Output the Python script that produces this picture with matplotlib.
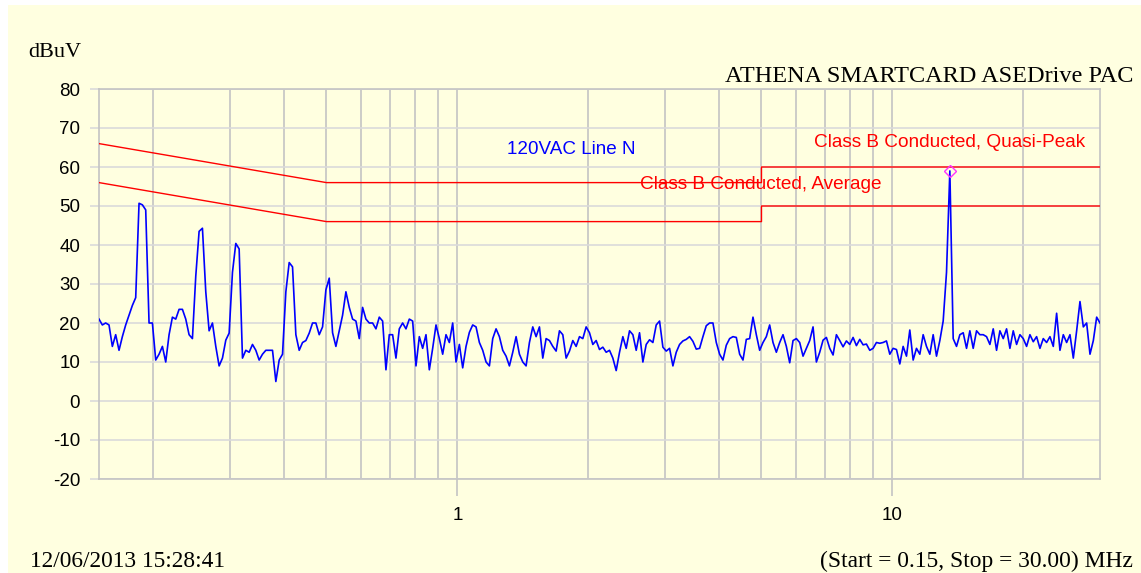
import matplotlib.pyplot as plt
import numpy as np
from matplotlib.patches import Rectangle

plt.rcParams['axes.unicode_minus'] = False

# sweep 0.15 - 30 MHz, 301 log spaced points, levels in dBuV
level = [21, 19.5, 20, 19.5, 14, 17, 13, 16.5, 19.5, 22,
         24.5, 26.5, 50.7, 50.3, 49, 20, 20, 10.5, 12, 14,
         10, 17, 21.5, 21, 23.5, 23.5, 21, 17, 16, 32,
         43.5, 44.3, 28, 18, 20, 14, 9, 11, 15.6, 17.4,
         33, 40.4, 39, 11, 13, 12.5, 14.5, 13, 10.5, 12,
         13, 13, 13, 5, 10.5, 12, 28, 35.5, 34.4, 17,
         13, 15, 15.5, 17.4, 20, 20, 17, 19, 28.5, 31.5,
         17.5, 14, 18, 22, 28, 24, 21, 20.5, 16, 24,
         21, 20, 20, 18.5, 21.5, 20.5, 8, 17, 17, 11,
         18.5, 20, 18.5, 21, 20.5, 9, 16.5, 13.5, 17, 8,
         13.5, 19.5, 16, 12, 17, 15, 20, 10, 14.5, 8.5,
         14, 17.6, 19.5, 19, 15, 13, 10, 9, 16, 18.5,
         16.5, 13, 11.5, 9, 12.5, 16.5, 12, 10, 9, 15,
         19, 16.5, 19, 11, 16, 15.5, 14, 12.8, 18, 17,
         11, 12.8, 15.5, 14, 16.5, 16, 19, 17.5, 14.5, 15.5,
         13.2, 13.8, 12.5, 13, 11, 7.8, 12.5, 16.5, 13.5, 18,
         17, 13, 17.5, 10, 14.5, 15.7, 15, 19.5, 20.5, 13.8,
         12.8, 13.5, 9, 12.5, 14.5, 15.4, 15.8, 16.5, 15.3, 13.3,
         13.5, 16.5, 19.3, 20, 20, 15, 12, 10.5, 14.3, 16,
         16.5, 16.3, 12, 10.5, 15.8, 16, 21.5, 17, 13, 15,
         16.5, 19.5, 15, 12.5, 15, 17, 14, 9.8, 15.5, 16,
         15, 11.5, 13.5, 15.5, 19, 10, 12.5, 15.6, 16.3, 13.5,
         11.8, 17, 15.5, 13.9, 15.4, 14.5, 16.3, 14.2, 15.8, 14.4,
         14.6, 13, 13.5, 15, 14.8, 15, 15.4, 12, 13.5, 13.2,
         9.5, 14, 11.5, 18.2, 10.5, 13.5, 12, 17, 14, 12,
         17, 11.5, 15.5, 20.5, 33, 59, 16, 14, 17, 17.5,
         13.5, 18, 13.5, 18, 17, 17, 16.5, 14.5, 18.5, 13,
         18, 16, 18.5, 13.5, 18, 14.5, 17, 16, 14, 17,
         15.2, 16.5, 13.5, 16, 15, 16.5, 14, 22.5, 13, 17,
         15, 17, 11, 18, 25.5, 19, 20, 12, 15.5, 21.5,
         20]
freq = np.geomspace(0.15, 30, len(level))

# EN55022 class B conducted limits
lim_f = [0.15, 0.5, 5, 5, 30]
qp_lim = [66, 56, 56, 60, 60]
avg_lim = [56, 46, 46, 50, 50]

yellow = '#ffffe0'
fig = plt.figure(figsize=(11.41, 5.73), dpi=100, facecolor='white')
fig.add_artist(Rectangle((8/1141, 0), 1 - 8/1141, 1 - 5/573, transform=fig.transFigure,
                         facecolor=yellow, edgecolor='none', zorder=-10))
ax = fig.add_axes([99/1141, 1 - 479/573, 1001/1141, 390/573])
ax.set_facecolor(yellow)

ax.plot(lim_f, qp_lim, color='#ff0000', lw=1.0, zorder=3)
ax.plot(lim_f, avg_lim, color='#ff0000', lw=1.0, zorder=3)
ax.plot(freq, level, color='#0000ff', lw=1.2, zorder=4)
pk = int(np.argmax(level))
ax.plot(freq[pk], level[pk], marker='D', ms=6, mfc='none', mec='#ff33ff', mew=1.0, zorder=5)

ax.set_xscale('log')
ax.set_xlim(0.15, 30)
ax.set_ylim(-20, 80)
ax.set_yticks(range(-20, 81, 10))
ax.set_xticks([1, 10])
ax.set_xticklabels(['1', '10'])
ax.set_xticks([0.2, 0.3, 0.4, 0.5, 0.6, 0.7, 0.8, 0.9, 2, 3, 4, 5, 6, 7, 8, 9, 20], minor=True)
ax.xaxis.set_minor_formatter(plt.NullFormatter())

ax.grid(axis='x', which='both', color='#c4c4c4', lw=1.2, zorder=0)
ax.grid(axis='y', which='major', color='#dadada', lw=1.2, zorder=0)
ax.set_axisbelow(True)
ax.tick_params(axis='x', which='major', length=12, width=1.2, color='#c4c4c4', pad=8,
               labelsize=13.5, labelfontfamily='Liberation Sans')
ax.tick_params(axis='x', which='minor', length=0)
ax.tick_params(axis='y', length=6.5, width=1.2, color='#dadada', pad=7,
               labelsize=13.5, labelfontfamily='Liberation Sans')
for s in ax.spines.values():
    s.set_color('#c4c4c4')
    s.set_linewidth(1.2)

ax.text(1.30, 64.4, '120VAC Line N', color='#0000ff', fontsize=13.6,
        family='Liberation Sans', va='center')
ax.text(6.6, 66.4, 'Class B Conducted, Quasi-Peak', color='#ff0000', fontsize=13.7,
        family='Liberation Sans', va='center')
ax.text(2.63, 55.6, 'Class B Conducted, Average', color='#ff0000', fontsize=13.7,
        family='Liberation Sans', va='center')

serif = 'Liberation Serif'
fig.text(28/1141, 1 - 57/573, 'dBuV', fontsize=16, family=serif, va='baseline')
fig.text(1133/1141, 1 - 82/573, 'ATHENA SMARTCARD ASEDrive PAC', fontsize=17.5,
         family=serif, ha='right', va='baseline')
fig.text(30/1141, 1 - 567/573, '12/06/2013 15:28:41', fontsize=16.8, family=serif, va='baseline')
fig.text(1133/1141, 1 - 567/573, '(Start = 0.15, Stop = 30.00) MHz', fontsize=16.9,
         family=serif, ha='right', va='baseline')

fig.savefig('out.png', dpi=100, facecolor=fig.get_facecolor())
